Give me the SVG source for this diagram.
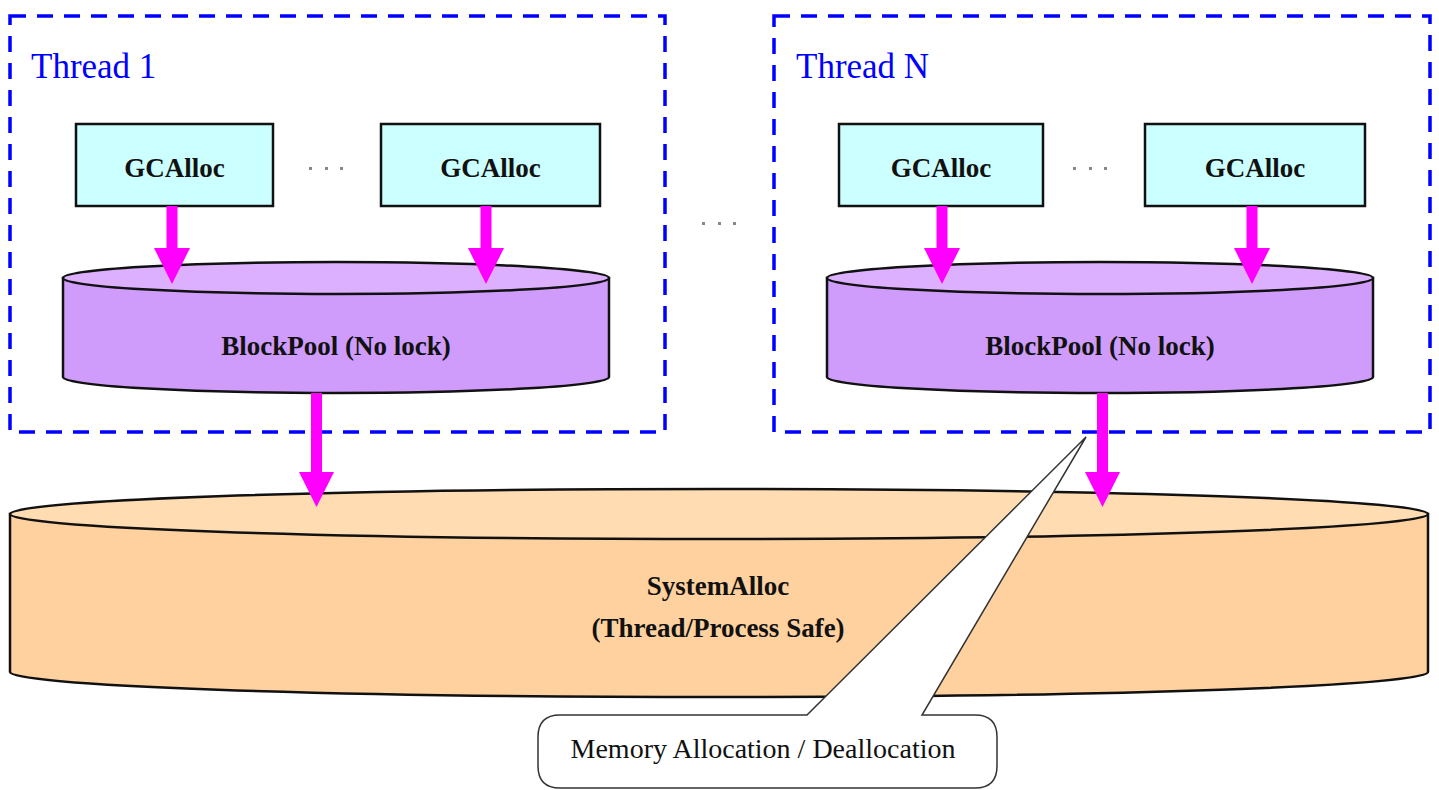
<svg xmlns="http://www.w3.org/2000/svg" width="1439" height="790" viewBox="0 0 1439 790">
<defs>
<style>
.thread{fill:none;stroke:#0000ff;stroke-width:3.5;stroke-dasharray:16 11}
.tlabel{font-family:"Liberation Serif",serif;font-size:35px;fill:#0000ff}
.gc{fill:#ccffff;stroke:#111;stroke-width:2.5}
.bold{font-family:"Liberation Serif",serif;font-weight:bold;font-size:27px;fill:#111;text-anchor:middle}
.bpside{fill:#cf9cfb;stroke:#111;stroke-width:2.5}
.bptop{fill:#dcb0ff;stroke:#111;stroke-width:2.5}
.saside{fill:#ffd19f;stroke:#111;stroke-width:2.5}
.satop{fill:#ffdcb2;stroke:#111;stroke-width:2.5}
.arrow{fill:#ff00ff}
.dot{fill:#888}
.callout{fill:#fff;stroke:#333;stroke-width:1.5}
.note{font-family:"Liberation Serif",serif;font-size:28px;fill:#111;text-anchor:middle}
</style>
</defs>

<g id="thread1">
<rect class="thread" x="10" y="16" width="655" height="416"/>
<text class="tlabel" x="31" y="78">Thread 1</text>
</g>
<g id="threadN">
<rect class="thread" x="774" y="16" width="656" height="416"/>
<text class="tlabel" x="796" y="78">Thread N</text>
</g>

<g id="gcalloc-1a">
<rect class="gc" x="76" y="124" width="197" height="82"/>
<text class="bold" x="174.5" y="177">GCAlloc</text>
</g>
<g id="gcalloc-1b">
<rect class="gc" x="381" y="124" width="219" height="82"/>
<text class="bold" x="490.5" y="177">GCAlloc</text>
</g>
<g id="gcalloc-Na">
<rect class="gc" x="839" y="124" width="204" height="82"/>
<text class="bold" x="941" y="177">GCAlloc</text>
</g>
<g id="gcalloc-Nb">
<rect class="gc" x="1145" y="124" width="220" height="82"/>
<text class="bold" x="1255" y="177">GCAlloc</text>
</g>

<g id="dots">
<rect class="dot" x="309" y="167" width="3" height="3"/>
<rect class="dot" x="325" y="167" width="3" height="3"/>
<rect class="dot" x="340" y="167" width="3" height="3"/>
<rect class="dot" x="1073" y="167" width="3" height="3"/>
<rect class="dot" x="1089" y="167" width="3" height="3"/>
<rect class="dot" x="1104" y="167" width="3" height="3"/>
<rect class="dot" x="702" y="222" width="3" height="3"/>
<rect class="dot" x="718" y="222" width="3" height="3"/>
<rect class="dot" x="733" y="222" width="3" height="3"/>
</g>

<g id="blockpool-1">
<path class="bpside" d="M63 278 L63 377 A273 16 0 0 0 609 377 L609 278 Z"/>
<ellipse class="bptop" cx="336" cy="278" rx="273" ry="16"/>
<text class="bold" x="336" y="355" font-size="28">BlockPool (No lock)</text>
</g>
<g id="blockpool-N">
<path class="bpside" d="M827 278 L827 377 A273 16 0 0 0 1373 377 L1373 278 Z"/>
<ellipse class="bptop" cx="1100" cy="278" rx="273" ry="16"/>
<text class="bold" x="1100" y="355" font-size="28">BlockPool (No lock)</text>
</g>

<g id="systemalloc">
<path class="saside" d="M10 514 L10 672 A709 25 0 0 0 1428 672 L1428 514 Z"/>
<ellipse class="satop" cx="719" cy="514" rx="709" ry="25"/>
<text class="bold" x="718" y="595" font-size="28">SystemAlloc</text>
<text class="bold" x="718" y="637" font-size="28">(Thread/Process Safe)</text>
</g>

<g id="connectors">
<path class="arrow" d="M166.5 206 H177.5 V248 H190 L172 284 L154 248 H166.5 Z"/>
<path class="arrow" d="M480.5 206 H491.5 V248 H504 L486 284 L468 248 H480.5 Z"/>
<path class="arrow" d="M936.5 206 H947.5 V248 H960 L942 284 L924 248 H936.5 Z"/>
<path class="arrow" d="M1246.5 206 H1257.5 V248 H1270 L1252 284 L1234 248 H1246.5 Z"/>
<path class="arrow" d="M311 393 H322 V472 H334 L316.5 507 L299 472 H311 Z"/>
<path class="arrow" d="M1097 393 H1108 V472 H1120 L1102.5 507 L1085 472 H1097 Z"/>
</g>

<g id="callout">
<path class="callout" d="M807 715 L1086 437 L922 715 L975 715 Q997 715 997 737 L997 766 Q997 788 975 788 L560 788 Q538 788 538 766 L538 737 Q538 715 560 715 Z"/>
<text class="note" x="763" y="758">Memory Allocation / Deallocation</text>
</g>
</svg>
